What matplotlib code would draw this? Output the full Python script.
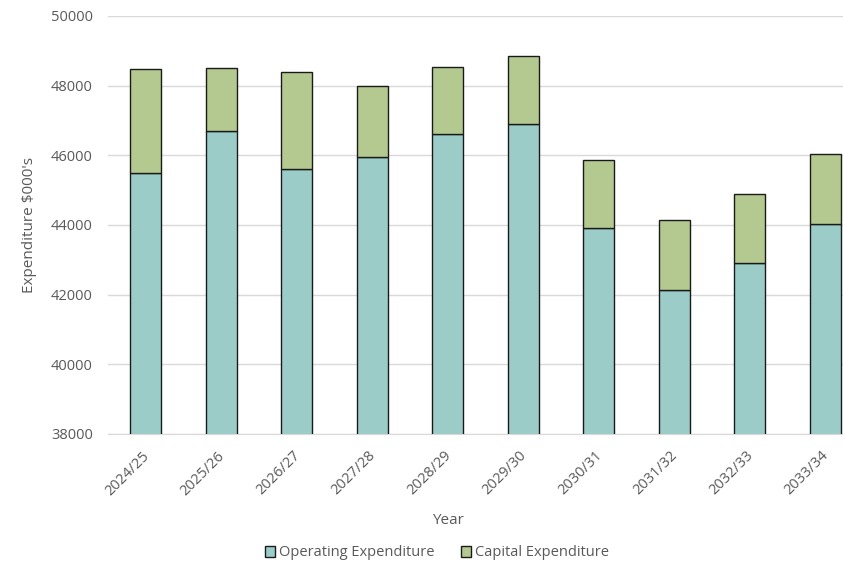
import matplotlib.pyplot as plt
import matplotlib.transforms as mtransforms
import numpy as np

years = ['2024/25', '2025/26', '2026/27', '2027/28', '2028/29',
         '2029/30', '2030/31', '2031/32', '2032/33', '2033/34']
operating = [45500, 46710, 45620, 45950, 46600, 46910, 43900, 42140, 42900, 44030]
capital = [2970, 1800, 2760, 2050, 1930, 1950, 1970, 2000, 1980, 2010]

plt.rcParams['font.family'] = ['Open Sans', 'DejaVu Sans']

fig = plt.figure(figsize=(8.43, 5.63), dpi=100)
ax = fig.add_axes([108 / 843, 129 / 563, 755 / 843, 418 / 563])

x = np.arange(len(years))
ax.bar(x, operating, width=0.41, color='#9BCCC8', edgecolor='#1a1a1a', linewidth=1,
       label='Operating Expenditure', zorder=3)
ax.bar(x, capital, width=0.41, bottom=operating, color='#B3C98F', edgecolor='#1a1a1a',
       linewidth=1, label='Capital Expenditure', zorder=3)

ax.set_xlim(-0.5, len(years) - 0.5)
ax.set_ylim(38000, 50000)
ax.set_yticks(np.arange(38000, 50001, 2000))
ax.grid(axis='y', color='#D9D9D9', linewidth=1, zorder=0)
for s in ['top', 'right', 'left']:
    ax.spines[s].set_visible(False)
ax.spines['bottom'].set_color('#D9D9D9')
ax.tick_params(axis='y', length=0, pad=11, labelsize=10.5, labelcolor='#595959')
ax.tick_params(axis='x', length=0, pad=6, labelsize=10.5, labelcolor='#595959')
ax.set_xticks(x)
ax.set_xticklabels(years, rotation=45, ha='right', rotation_mode='anchor')
# nudge rotated labels a bit left and down
offset = mtransforms.ScaledTranslation(-4 / 100, -6 / 100, fig.dpi_scale_trans)
for lbl in ax.get_xticklabels():
    lbl.set_transform(lbl.get_transform() + offset)

ax.set_ylabel("Expenditure $000's", fontsize=11, color='#595959', labelpad=10)
ax.set_xlabel('Year', fontsize=11, color='#595959')
ax.xaxis.set_label_coords(340 / 755, -79 / 418)

leg = fig.legend(loc='center', bbox_to_anchor=(437 / 843, 10 / 563), ncol=2, frameon=False,
                 fontsize=10.5, handlelength=0.7, handleheight=0.7, handletextpad=0.3,
                 columnspacing=1.8)
for t in leg.get_texts():
    t.set_color('#595959')

fig.savefig('out.png', dpi=100)
